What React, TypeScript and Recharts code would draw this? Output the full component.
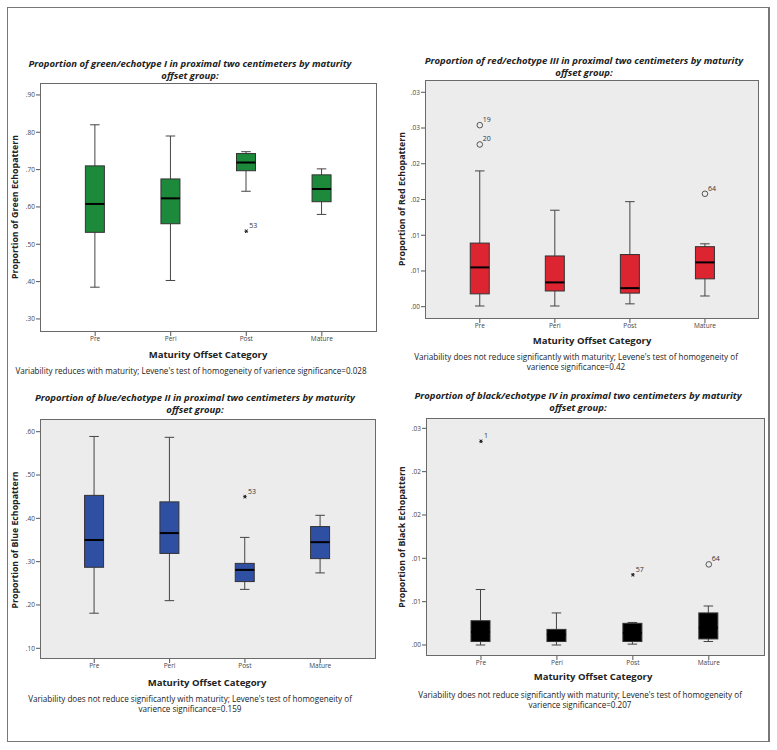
import React from 'react';
import { ComposedChart, Bar, Scatter, XAxis, YAxis } from 'recharts';

const categories = ['Pre', 'Peri', 'Post', 'Mature'];

// green / echotype I
const greenLow = [0.385, 0.403, 0.642, 0.58];
const greenQ1 = [0.532, 0.555, 0.697, 0.614];
const greenMedian = [0.608, 0.623, 0.719, 0.648];
const greenQ3 = [0.71, 0.675, 0.743, 0.686];
const greenHigh = [0.82, 0.79, 0.748, 0.702];
const greenOutlierGroup = ['Post'];
const greenOutlierValue = [0.535];
const greenOutlierCase = ['53'];
const greenOutlierMark = ['star'];
const greenTicks = [0.3, 0.4, 0.5, 0.6, 0.7, 0.8, 0.9];
const greenTickLabels = ['.30', '.40', '.50', '.60', '.70', '.80', '.90'];

// red / echotype III
const redLow = [0.0001, 0.0001, 0.0004, 0.0015];
const redQ1 = [0.0018, 0.0022, 0.0019, 0.0039];
const redMedian = [0.0055, 0.0034, 0.0026, 0.0062];
const redQ3 = [0.0089, 0.0071, 0.0073, 0.0084];
const redHigh = [0.019, 0.0135, 0.0147, 0.0088];
const redOutlierGroup = ['Pre', 'Pre', 'Mature'];
const redOutlierValue = [0.0254, 0.0227, 0.0158];
const redOutlierCase = ['19', '20', '64'];
const redOutlierMark = ['circle', 'circle', 'circle'];
const redTicks = [0, 0.005, 0.01, 0.015, 0.02, 0.025, 0.03];
const redTickLabels = ['.00', '.01', '.01', '.02', '.02', '.03', '.03'];

// blue / echotype II
const blueLow = [0.181, 0.21, 0.236, 0.274];
const blueQ1 = [0.287, 0.319, 0.254, 0.307];
const blueMedian = [0.35, 0.366, 0.281, 0.345];
const blueQ3 = [0.453, 0.438, 0.296, 0.381];
const blueHigh = [0.589, 0.587, 0.356, 0.407];
const blueOutlierGroup = ['Post'];
const blueOutlierValue = [0.45];
const blueOutlierCase = ['53'];
const blueOutlierMark = ['star'];
const blueTicks = [0.1, 0.2, 0.3, 0.4, 0.5, 0.6];
const blueTickLabels = ['.10', '.20', '.30', '.40', '.50', '.60'];

// black / echotype IV
const blackLow = [0, 0, 0.0001, 0.0004];
const blackQ1 = [0.0004, 0.0004, 0.0004, 0.0007];
const blackMedian = [0.0015, 0.0012, 0.0014, 0.002];
const blackQ3 = [0.0028, 0.0018, 0.0025, 0.0037];
const blackHigh = [0.0064, 0.0037, 0.0026, 0.0045];
const blackOutlierGroup = ['Pre', 'Post', 'Mature'];
const blackOutlierValue = [0.0235, 0.0081, 0.0093];
const blackOutlierCase = ['1', '57', '64'];
const blackOutlierMark = ['star', 'star', 'circle'];
const blackTicks = [0, 0.005, 0.01, 0.015, 0.02, 0.025];
const blackTickLabels = ['.00', '.01', '.01', '.02', '.02', '.03'];

const boxRows = (low: number[], q1: number[], med: number[], q3: number[], high: number[]) =>
  categories.map((c, i) => ({
    x: i + 1,
    cat: c,
    range: [low[i], high[i]],
    low: low[i],
    q1: q1[i],
    med: med[i],
    q3: q3[i],
    high: high[i],
  }));

const outlierRows = (group: string[], value: number[], id: string[], mark: string[]) =>
  group.map((g, i) => ({ x: categories.indexOf(g) + 1, y: value[i], id: id[i], mark: mark[i] }));

const FONT = '"Open Sans", "DejaVu Sans", sans-serif';

function BoxShape(props: any) {
  const { x, y, width, height, payload, color } = props;
  const top = Math.min(y, y + height);
  const h = Math.abs(height);
  const span = payload.high - payload.low || 1;
  const py = (v: number) => top + ((payload.high - v) / span) * h;
  const cx = x + width / 2;
  const cap = width / 4;
  const yq3 = py(payload.q3);
  const yq1 = py(payload.q1);
  const ym = py(payload.med);
  return (
    <g>
      <line x1={cx} x2={cx} y1={top} y2={yq3} stroke="#444" strokeWidth={1} />
      <line x1={cx} x2={cx} y1={yq1} y2={top + h} stroke="#444" strokeWidth={1} />
      <line x1={cx - cap} x2={cx + cap} y1={top} y2={top} stroke="#444" strokeWidth={1} />
      <line x1={cx - cap} x2={cx + cap} y1={top + h} y2={top + h} stroke="#444" strokeWidth={1} />
      <rect x={x} y={yq3} width={width} height={Math.max(yq1 - yq3, 1)} fill={color} stroke="#333" strokeWidth={1} />
      <line x1={x} x2={x + width} y1={ym} y2={ym} stroke="#000" strokeWidth={2} />
    </g>
  );
}

function OutlierShape(props: any) {
  const { cx, cy, payload } = props;
  const r = 1.8;
  return (
    <g>
      {payload.mark === 'circle' ? (
        <circle cx={cx} cy={cy} r={2.8} fill="none" stroke="#444" strokeWidth={0.9} />
      ) : (
        <g stroke="#222" strokeWidth={1}>
          <line x1={cx - r} x2={cx + r} y1={cy} y2={cy} />
          <line x1={cx - r * 0.6} x2={cx + r * 0.6} y1={cy - r} y2={cy + r} />
          <line x1={cx - r * 0.6} x2={cx + r * 0.6} y1={cy + r} y2={cy - r} />
        </g>
      )}
      <text x={cx + 3} y={cy - 3} fontSize={7} fill="#333" stroke="none" fontFamily={FONT}>
        {payload.id}
      </text>
    </g>
  );
}

function Txt({ x, y, size, bold, children, rotate }: any) {
  return (
    <div
      style={{
        position: 'absolute',
        left: x,
        top: y,
        transform: `translate(-50%, -50%)${rotate ? ' rotate(-90deg)' : ''}`,
        whiteSpace: 'nowrap',
        fontSize: size,
        fontWeight: bold ? 700 : 400,
        color: '#222',
        lineHeight: 1,
        fontFamily: FONT,
      }}
    >
      {children}
    </div>
  );
}

function Title({ x, y, lines }: any) {
  return (
    <div
      style={{
        position: 'absolute',
        left: x,
        top: y,
        transform: 'translateX(-50%)',
        whiteSpace: 'nowrap',
        textAlign: 'center',
        fontSize: 9.5,
        fontWeight: 700,
        fontStyle: 'italic',
        color: '#222',
        lineHeight: '12px',
        fontFamily: FONT,
      }}
    >
      {lines.map((l: string, i: number) => (
        <div key={i}>{l}</div>
      ))}
    </div>
  );
}

function Note({ x, y, lines }: any) {
  return (
    <div
      style={{
        position: 'absolute',
        left: x,
        top: y,
        transform: 'translateX(-50%)',
        whiteSpace: 'nowrap',
        textAlign: 'center',
        fontSize: 8.1,
        color: '#222',
        lineHeight: '9.5px',
        fontFamily: FONT,
      }}
    >
      {lines.map((l: string, i: number) => (
        <div key={i}>{l}</div>
      ))}
    </div>
  );
}

function Panel({ plot, xDomain, yDomain, ticks, tickLabels, color, bg, rows, outliers }: any) {
  const W = plot.width + 50;
  const H = plot.height + 40;
  return (
    <>
      <div
        style={{
          position: 'absolute',
          left: plot.left,
          top: plot.top,
          width: plot.width,
          height: plot.height,
          background: bg,
          border: '1px solid #6a6a6a',
          boxSizing: 'border-box',
        }}
      />
      <div style={{ position: 'absolute', left: plot.left - 40, top: plot.top - 20 }}>
        <ComposedChart width={W} height={H} data={rows} margin={{ top: 20, right: 10, bottom: 0, left: 0 }}>
          <XAxis
            dataKey="x"
            type="number"
            domain={xDomain}
            ticks={[1, 2, 3, 4]}
            tickFormatter={(v: number) => categories[v - 1]}
            axisLine={false}
            tickSize={4}
            tickMargin={0}
            height={20}
            tick={{ fontSize: 6.5, fill: '#444', fontFamily: FONT }}
            tickLine={{ stroke: '#555' }}
          />
          <YAxis
            type="number"
            domain={yDomain}
            ticks={ticks}
            tickFormatter={(v: number) => tickLabels[ticks.indexOf(v)]}
            axisLine={false}
            tickSize={4}
            tickMargin={1}
            width={40}
            tick={{ fontSize: 6.5, fill: '#444', fontFamily: FONT }}
            tickLine={{ stroke: '#555' }}
          />
          <Bar dataKey="range" barSize={19} isAnimationActive={false} shape={(p: any) => <BoxShape {...p} color={color} />} />
          <Scatter data={outliers} dataKey="y" fill="#333" isAnimationActive={false} shape={(p: any) => <OutlierShape {...p} />} />
        </ComposedChart>
      </div>
    </>
  );
}

export default function App() {
  return (
    <div style={{ position: 'absolute', left: 0, top: 0, width: 777, height: 750, background: '#fff', fontFamily: FONT }}>
      <div
        style={{
          position: 'absolute',
          left: 7,
          top: 7,
          width: 763,
          height: 735,
          border: '1px solid #777',
          borderRightWidth: 2,
          boxSizing: 'border-box',
        }}
      />

      {/* green */}
      <Title x={190} y={58} lines={['Proportion of green/echotype I in proximal two centimeters by maturity', 'offset group:']} />
      <Panel
        plot={{ left: 40, top: 83, width: 337, height: 249 }}
        xDomain={[0.27, 4.73]}
        yDomain={[0.265, 0.932]}
        ticks={greenTicks}
        tickLabels={greenTickLabels}
        color="#1c8a3a"
        bg="#ffffff"
        rows={boxRows(greenLow, greenQ1, greenMedian, greenQ3, greenHigh)}
        outliers={outlierRows(greenOutlierGroup, greenOutlierValue, greenOutlierCase, greenOutlierMark)}
      />
      <Txt x={15} y={207} size={8.8} bold rotate>Proportion of Green Echopattern</Txt>
      <Txt x={208} y={355} size={9.5} bold>Maturity Offset Category</Txt>
      <Note x={191} y={366} lines={["Variability reduces with maturity; Levene's test of homogeneity of varience significance=0.028"]} />

      {/* red */}
      <Title x={584} y={55} lines={['Proportion of red/echotype III in proximal two centimeters by maturity', 'offset group:']} />
      <Panel
        plot={{ left: 425, top: 80, width: 334, height: 239 }}
        xDomain={[0.27, 4.72]}
        yDomain={[-0.00172, 0.03172]}
        ticks={redTicks}
        tickLabels={redTickLabels}
        color="#dc2530"
        bg="#ececec"
        rows={boxRows(redLow, redQ1, redMedian, redQ3, redHigh)}
        outliers={outlierRows(redOutlierGroup, redOutlierValue, redOutlierCase, redOutlierMark)}
      />
      <Txt x={402} y={199} size={8.8} bold rotate>Proportion of Red Echopattern</Txt>
      <Txt x={592} y={341} size={9.5} bold>Maturity Offset Category</Txt>
      <Note
        x={576}
        y={352}
        lines={["Variability does not reduce significantly with maturity; Levene's test of homogeneity of", 'varience significance=0.42']}
      />

      {/* blue */}
      <Title x={195} y={392} lines={['Proportion of blue/echotype II in proximal two centimeters by maturity', 'offset group:']} />
      <Panel
        plot={{ left: 40, top: 419, width: 336, height: 240 }}
        xDomain={[0.28, 4.74]}
        yDomain={[0.0753, 0.6293]}
        ticks={blueTicks}
        tickLabels={blueTickLabels}
        color="#2e4fa2"
        bg="#ececec"
        rows={boxRows(blueLow, blueQ1, blueMedian, blueQ3, blueHigh)}
        outliers={outlierRows(blueOutlierGroup, blueOutlierValue, blueOutlierCase, blueOutlierMark)}
      />
      <Txt x={15} y={540} size={8.8} bold rotate>Proportion of Blue Echopattern</Txt>
      <Txt x={207} y={683} size={9.5} bold>Maturity Offset Category</Txt>
      <Note
        x={190}
        y={694}
        lines={["Variability does not reduce significantly with maturity; Levene's test of homogeneity of", 'varience significance=0.159']}
      />

      {/* black */}
      <Title x={578} y={390} lines={['Proportion of black/echotype IV in proximal two centimeters by maturity', 'offset group:']} />
      <Panel
        plot={{ left: 426, top: 418, width: 339, height: 238 }}
        xDomain={[0.276, 4.74]}
        yDomain={[-0.00127, 0.02619]}
        ticks={blackTicks}
        tickLabels={blackTickLabels}
        color="#000000"
        bg="#ececec"
        rows={boxRows(blackLow, blackQ1, blackMedian, blackQ3, blackHigh)}
        outliers={outlierRows(blackOutlierGroup, blackOutlierValue, blackOutlierCase, blackOutlierMark)}
      />
      <Txt x={402} y={537} size={8.8} bold rotate>Proportion of Black Echopattern</Txt>
      <Txt x={593} y={677} size={9.5} bold>Maturity Offset Category</Txt>
      <Note
        x={580}
        y={690}
        lines={["Variability does not reduce significantly with maturity; Levene's test of homogeneity of", 'varience significance=0.207']}
      />
    </div>
  );
}
